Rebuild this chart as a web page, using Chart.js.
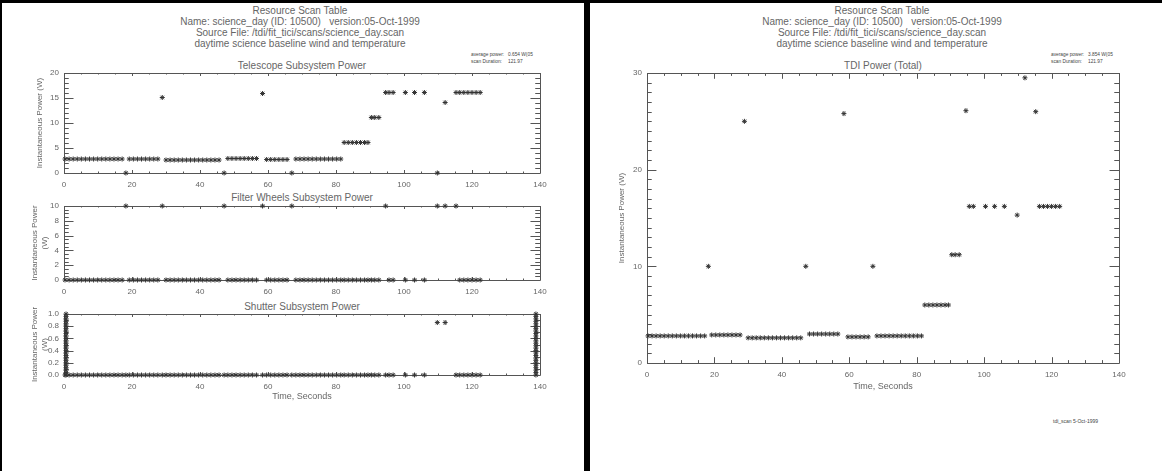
<!DOCTYPE html>
<html>
<head>
<meta charset="utf-8">
<title>Resource Scan Table</title>
<script src="https://cdn.jsdelivr.net/npm/chart.js@4.4.0/dist/chart.umd.min.js"></script>
<style>
  body { margin: 0; width: 1162px; height: 471px; background: #fff; overflow: hidden; position: relative;
         font-family: "Liberation Sans", Arial, sans-serif; color: #666; }
  .t { position: absolute; white-space: nowrap; transform: translate(-50%, -50%); font-size: 10px; }
  .sm { position: absolute; white-space: nowrap; font-size: 4.8px; color: #444; }
  .bar { position: absolute; background: #000; }
  canvas { position: absolute; }
</style>
</head>
<body>
<div class="bar" style="left:0;top:0;width:1162px;height:3px"></div>
<div class="bar" style="left:0;top:0;width:2px;height:471px"></div>
<div class="bar" style="left:584px;top:0;width:6px;height:471px"></div>

<!-- left panel header -->
<div class="t" style="left:300px;top:10px">Resource Scan Table</div>
<div class="t" style="left:300px;top:21px">Name: science_day (ID: 10500)&nbsp;&nbsp;&nbsp;version:05-Oct-1999</div>
<div class="t" style="left:300px;top:32px">Source File: /tdi/fit_tici/scans/science_day.scan</div>
<div class="t" style="left:300px;top:43px">daytime science baseline wind and temperature</div>
<div class="sm" style="left:471px;top:52px">average power:</div>
<div class="sm" style="left:508px;top:52px">0.654 W(05</div>
<div class="sm" style="left:471px;top:59px">scan Duration:</div>
<div class="sm" style="left:508px;top:59px">121.97</div>
<div class="t" style="left:302px;top:65px">Telescope Subsystem Power</div>
<div class="t" style="left:302px;top:197px">Filter Wheels Subsystem Power</div>
<div class="t" style="left:302px;top:306px">Shutter Subsystem Power</div>

<!-- right panel header -->
<div class="t" style="left:882px;top:10px">Resource Scan Table</div>
<div class="t" style="left:882px;top:21px">Name: science_day (ID: 10500)&nbsp;&nbsp;&nbsp;version:05-Oct-1999</div>
<div class="t" style="left:882px;top:32px">Source File: /tdi/fit_tici/scans/science_day.scan</div>
<div class="t" style="left:882px;top:43px">daytime science baseline wind and temperature</div>
<div class="sm" style="left:1051px;top:52px">average power:</div>
<div class="sm" style="left:1088px;top:52px">3.854 W(05</div>
<div class="sm" style="left:1051px;top:59px">scan Duration:</div>
<div class="sm" style="left:1088px;top:59px">121.97</div>
<div class="t" style="left:883px;top:65px">TDI Power (Total)</div>
<div class="sm" style="left:1053px;top:418px;font-size:5px">tdi_scan 5-Oct-1999</div>

<canvas id="telescope"></canvas>
<canvas id="filter"></canvas>
<canvas id="shutter"></canvas>
<canvas id="tdi"></canvas>

<script>
const FONT = '"Liberation Sans", Arial, sans-serif';

// sample times of the scan (seconds)
const scanTimes = [
    0.3, 1.5, 2.7, 3.9, 5.1, 6.3, 7.5, 8.7, 9.9, 11.1, 12.3, 13.5, 14.7, 15.9, 17.1,
    18.2,
    19.2, 20.4, 21.6, 22.8, 24.0, 25.2, 26.4, 27.6,
    28.9,
    30.0, 31.2, 32.4, 33.6, 34.8, 36.0, 37.2, 38.4, 39.6, 40.8, 42.0, 43.2, 44.4, 45.6,
    47.1,
    48.2, 49.4, 50.6, 51.8, 53.0, 54.2, 55.4, 56.6,
    58.4,
    59.6, 60.8, 62.0, 63.2, 64.4, 65.6,
    67.0,
    68.2, 69.4, 70.6, 71.8, 73.0, 74.2, 75.4, 76.6, 77.8, 79.0, 80.2, 81.4,
    82.4, 83.6, 84.8, 86.0, 87.2, 88.4, 89.4,
    90.4, 91.4, 92.6,
    94.6, 95.6, 96.8, 100.4, 103.1, 106.0, 109.8, 112.1, 115.3,
    116.4, 117.6, 118.8, 120.0, 121.2, 122.4
];

const telescopePower = [
    2.8, 2.8, 2.8, 2.8, 2.8, 2.8, 2.8, 2.8, 2.8, 2.8, 2.8, 2.8, 2.8, 2.8, 2.8,
    0,
    2.8, 2.8, 2.8, 2.8, 2.8, 2.8, 2.8, 2.8,
    15.1,
    2.6, 2.6, 2.6, 2.6, 2.6, 2.6, 2.6, 2.6, 2.6, 2.6, 2.6, 2.6, 2.6, 2.6,
    0,
    2.9, 2.9, 2.9, 2.9, 2.9, 2.9, 2.9, 2.9,
    15.9,
    2.7, 2.7, 2.7, 2.7, 2.7, 2.7,
    0,
    2.8, 2.8, 2.8, 2.8, 2.8, 2.8, 2.8, 2.8, 2.8, 2.8, 2.8, 2.8,
    6.1, 6.1, 6.1, 6.1, 6.1, 6.1, 6.1,
    11.1, 11.1, 11.1,
    16.1, 16.1, 16.1, 16.1, 16.1, 16.1, 0, 14.1, 16.1,
    16.1, 16.1, 16.1, 16.1, 16.1, 16.1
];

const filterPower = [
    0, 0, 0, 0, 0, 0, 0, 0, 0, 0, 0, 0, 0, 0, 0,
    10,
    0, 0, 0, 0, 0, 0, 0, 0,
    10,
    0, 0, 0, 0, 0, 0, 0, 0, 0, 0, 0, 0, 0, 0,
    10,
    0, 0, 0, 0, 0, 0, 0, 0,
    10,
    0, 0, 0, 0, 0, 0,
    10,
    0, 0, 0, 0, 0, 0, 0, 0, 0, 0, 0, 0,
    0, 0, 0, 0, 0, 0, 0,
    0, 0, 0,
    10, 0, 0, 0, 0, 0, 10, 10, 10,
    0, 0, 0, 0, 0, 0
];

const shutterPower = [
    0, 0, 0, 0, 0, 0, 0, 0, 0, 0, 0, 0, 0, 0, 0,
    0,
    0, 0, 0, 0, 0, 0, 0, 0,
    0,
    0, 0, 0, 0, 0, 0, 0, 0, 0, 0, 0, 0, 0, 0,
    0,
    0, 0, 0, 0, 0, 0, 0, 0,
    0,
    0, 0, 0, 0, 0, 0,
    0,
    0, 0, 0, 0, 0, 0, 0, 0, 0, 0, 0, 0,
    0, 0, 0, 0, 0, 0, 0,
    0, 0, 0,
    0, 0, 0, 0, 0, 0, 0.86, 0.86, 0,
    0, 0, 0, 0, 0, 0
];

// shutter sweeps at start and end of scan
const shutterSweepTimes = [0.6, 138.8];
const shutterSweepValues = [0, 0.04, 0.08, 0.12, 0.16, 0.2, 0.24, 0.28, 0.32, 0.36, 0.4, 0.44, 0.48,
    0.52, 0.56, 0.6, 0.64, 0.68, 0.72, 0.76, 0.8, 0.84, 0.88, 0.92, 0.96, 1.0];

const tdiPower = [
    2.8, 2.8, 2.8, 2.8, 2.8, 2.8, 2.8, 2.8, 2.8, 2.8, 2.8, 2.8, 2.8, 2.8, 2.8,
    10.0,
    2.9, 2.9, 2.9, 2.9, 2.9, 2.9, 2.9, 2.9,
    25.0,
    2.6, 2.6, 2.6, 2.6, 2.6, 2.6, 2.6, 2.6, 2.6, 2.6, 2.6, 2.6, 2.6, 2.6,
    10.0,
    3.0, 3.0, 3.0, 3.0, 3.0, 3.0, 3.0, 3.0,
    25.8,
    2.7, 2.7, 2.7, 2.7, 2.7, 2.7,
    10.0,
    2.8, 2.8, 2.8, 2.8, 2.8, 2.8, 2.8, 2.8, 2.8, 2.8, 2.8, 2.8,
    6.0, 6.0, 6.0, 6.0, 6.0, 6.0, 6.0,
    11.2, 11.2, 11.2,
    26.1, 16.2, 16.2, 16.2, 16.2, 16.2, 15.3, 29.5, 26.0,
    16.2, 16.2, 16.2, 16.2, 16.2, 16.2
];

// axis tick labels
const timeTicks = [0, 20, 40, 60, 80, 100, 120, 140];
const telescopeTicks = [0, 5, 10, 15, 20];
const filterTicks = [0, 2, 4, 6, 8, 10];
const shutterTicks = [0, 0.2, 0.4, 0.6, 0.8, 1.0];
const tdiTicks = [0, 10, 20, 30];

function isMajor(v, step) {
    const r = v / step;
    return Math.abs(r - Math.round(r)) < 1e-6;
}

// IDL style box with inward ticks on all four sides
const idlFrame = {
    id: 'idlFrame',
    beforeDatasetsDraw(chart, args, opts) {
        const { ctx, chartArea: a } = chart;
        const xs = chart.scales.x, ys = chart.scales.y;
        const xLen = Math.max(3, a.height * 0.02);
        const yLen = a.width * 0.02;
        ctx.save();
        ctx.strokeStyle = '#555';
        ctx.lineWidth = 1;
        ctx.beginPath();
        ctx.rect(Math.round(a.left) + 0.5, Math.round(a.top) + 0.5, Math.round(a.width), Math.round(a.height));
        for (let v = xs.min; v <= xs.max + 1e-6; v += opts.xMinor) {
            const p = Math.round(xs.getPixelForValue(v)) + 0.5;
            const len = isMajor(v, opts.xMajor) ? xLen : xLen / 2;
            ctx.moveTo(p, a.bottom); ctx.lineTo(p, a.bottom - len);
            ctx.moveTo(p, a.top); ctx.lineTo(p, a.top + len);
        }
        for (let v = ys.min; v <= ys.max + 1e-6; v += opts.yMinor) {
            const p = Math.round(ys.getPixelForValue(v)) + 0.5;
            const len = isMajor(v, opts.yMajor) ? yLen : yLen / 2;
            ctx.moveTo(a.left, p); ctx.lineTo(a.left + len, p);
            ctx.moveTo(a.right, p); ctx.lineTo(a.right - len, p);
        }
        ctx.stroke();
        ctx.restore();
    }
};

function toPoints(xs, ys) {
    return xs.map((x, i) => ({ x: x, y: ys[i] }));
}

function criarPlot(id, area, opts) {
    const cv = document.getElementById(id);
    const yw = opts.yAxisWidth;
    const left = area.l - yw, top = area.t - 10;
    const xh = opts.xTitleY ? Math.round(opts.xTitleY + 5 - area.b) : 22;
    const w = area.r - left + 20, h = area.b - top + xh;
    cv.width = w; cv.height = h;
    cv.style.left = left + 'px';
    cv.style.top = top + 'px';
    cv.style.width = w + 'px';
    cv.style.height = h + 'px';

    const yTicks = opts.yTicks;
    new Chart(cv.getContext('2d'), {
        type: 'scatter',
        data: {
            datasets: opts.series.map(s => ({
                data: s,
                pointStyle: 'star',
                radius: 2.5,
                borderColor: '#333',
                backgroundColor: '#333',
                borderWidth: 1,
                clip: false
            }))
        },
        options: {
            responsive: false,
            animation: false,
            devicePixelRatio: 1,
            layout: { padding: { top: 10, right: 20, left: 0, bottom: 0 } },
            plugins: {
                legend: { display: false },
                tooltip: { enabled: false },
                idlFrame: { xMinor: 5, xMajor: 20, yMinor: opts.yMinor, yMajor: yTicks[1] - yTicks[0] }
            },
            scales: {
                x: {
                    type: 'linear',
                    min: 0,
                    max: 140,
                    grid: { display: false, drawTicks: false },
                    border: { display: false },
                    afterBuildTicks: s => { s.ticks = timeTicks.map(v => ({ value: v })); },
                    ticks: {
                        padding: 7,
                        maxRotation: 0,
                        autoSkip: false,
                        color: '#666',
                        font: { family: FONT, size: 8 }
                    },
                    title: {
                        display: !!opts.xTitleY,
                        text: 'Time, Seconds',
                        color: '#666',
                        padding: { top: 0, bottom: 0 },
                        font: { family: FONT, size: 9 }
                    },
                    afterFit: s => { s.height = xh; }
                },
                y: {
                    type: 'linear',
                    min: yTicks[0],
                    max: yTicks[yTicks.length - 1],
                    grid: { display: false, drawTicks: false },
                    border: { display: false },
                    afterBuildTicks: s => { s.ticks = yTicks.map(v => ({ value: v })); },
                    ticks: {
                        padding: 5,
                        autoSkip: false,
                        color: '#666',
                        font: { family: FONT, size: 8 },
                        callback: v => opts.yFormat ? opts.yFormat(v) : v
                    },
                    title: {
                        display: true,
                        text: opts.yTitle,
                        color: '#666',
                        padding: { top: opts.yTitleX - left - 4.8, bottom: 0 },
                        font: { family: FONT, size: 8 }
                    },
                    afterFit: s => { s.width = yw; }
                }
            }
        },
        plugins: [idlFrame]
    });
}

window.addEventListener('DOMContentLoaded', () => {
    criarPlot('telescope', { l: 64, r: 540, t: 73, b: 173 }, {
        yAxisWidth: 54, yTicks: telescopeTicks, yMinor: 1, yTitleX: 40,
        yTitle: 'Instantaneous Power (W)',
        series: [toPoints(scanTimes, telescopePower)]
    });
    criarPlot('filter', { l: 64, r: 540, t: 206, b: 280 }, {
        yAxisWidth: 54, yTicks: filterTicks, yMinor: 0.5, yTitleX: 35,
        yTitle: ['Instantaneous Power', '(W)'],
        series: [toPoints(scanTimes, filterPower)]
    });
    criarPlot('shutter', { l: 64, r: 540, t: 314, b: 375 }, {
        yAxisWidth: 54, yTicks: shutterTicks, yMinor: 0.1, yTitleX: 35,
        yTitle: ['Instantaneous Power', '(W)'],
        yFormat: v => v.toFixed(1),
        xTitleY: 397,
        series: [
            toPoints(scanTimes, shutterPower),
            shutterSweepValues.map(v => ({ x: shutterSweepTimes[0], y: v })),
            shutterSweepValues.map(v => ({ x: shutterSweepTimes[1], y: v }))
        ]
    });
    criarPlot('tdi', { l: 647, r: 1119, t: 73, b: 363 }, {
        yAxisWidth: 47, yTicks: tdiTicks, yMinor: 1, yTitleX: 622,
        yTitle: 'Instantaneous Power (W)',
        xTitleY: 387,
        series: [toPoints(scanTimes, tdiPower)]
    });
});
</script>
</body>
</html>
